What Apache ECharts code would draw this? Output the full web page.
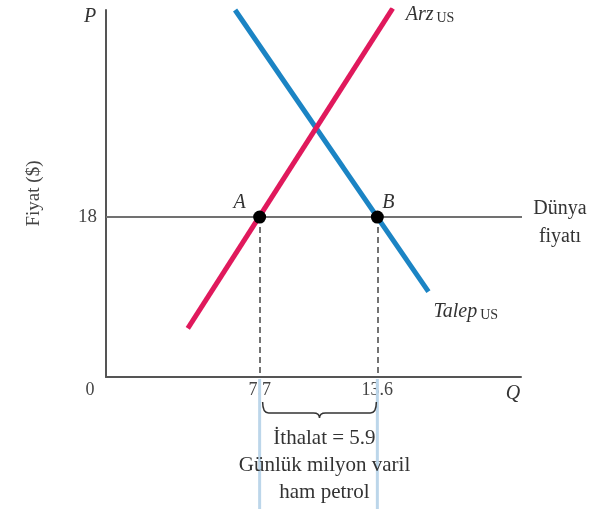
<!DOCTYPE html>
<html lang="tr">
<head>
<meta charset="UTF-8">
<title>Dünya fiyatı ve ithalat</title>
<style>
    html, body { margin: 0; padding: 0; background: #fff; }
    #main { width: 611px; height: 509px; }
</style>
<script src="https://cdn.jsdelivr.net/npm/echarts@6/dist/echarts.min.js"></script>
</head>
<body>
<div id="main"></div>
<script type="text/javascript">
    // arz ve talep doğruları (uç noktalar)
    var supplyQ = [4.1, 14.37];
    var supplyP = [5.48, 41.49];
    var demandQ = [6.47, 16.16];
    var demandP = [41.3, 9.6];
    // dünya fiyatı
    var worldPrice = 18;
    var worldQ = [0, 21.0];
    // A ve B noktaları
    var pointNames = ['A', 'B'];
    var importQ = [7.7, 13.6];
    var importAmount = 5.9;
    // eksen etiketleri
    var xTickValues = [0, 7.7, 13.6];
    var yTickValues = [18];
    var xMax = 20.8;
    var yMax = 41.3;

    var serif = '"Liberation Serif", "Times New Roman", serif';
    var textColor = '#333';

    var myChart = echarts.init(document.getElementById('main'));

    function toPairs(qs, ps) {
        return qs.map(function (q, i) { return [q, ps[i]]; });
    }

    var rich = {
        i: { fontFamily: serif, fontStyle: 'italic', fontSize: 20, color: textColor, lineHeight: 22 },
        s: { fontFamily: serif, fontSize: 14, color: textColor, padding: [8, 0, 0, 3], lineHeight: 22 },
        n: { fontFamily: serif, fontSize: 20, color: textColor, lineHeight: 28, align: 'center' }
    };

    var notes = [
        { value: [supplyQ[1], supplyP[1]], text: '{i|Arz}{s|US}', align: 'left', offset: [13, 6] },
        { value: [demandQ[1], demandP[1]], text: '{i|Talep}{s|US}', align: 'left', offset: [5, 20] },
        { value: [worldQ[1], worldPrice], text: '{n|Dünya}\n{n|fiyatı}', align: 'center', offset: [35, 6] },
        { value: [0, yMax], text: '{i|P}', align: 'center', offset: [-16, 7] },
        { value: [xMax, 0], text: '{i|Q}', align: 'center', offset: [-8, 17] }
    ];

    // ithalat açıklaması: mavi kılavuzlar, küme parantezi ve yazılar
    function renderImports(params, api) {
        var a = api.coord([api.value(0), 0]);
        var b = api.coord([api.value(1), 0]);
        var h = api.getHeight();
        var x1 = a[0] + 3, x2 = b[0] - 1;
        var y = a[1] + 36, y0 = a[1] + 25;
        var mid = (x1 + x2) / 2;
        var brace = 'M' + x1 + ' ' + y0 + ' Q' + x1 + ' ' + y + ' ' + (x1 + 6) + ' ' + y +
            ' L' + (mid - 6) + ' ' + y + ' Q' + mid + ' ' + y + ' ' + mid + ' ' + (y + 5) +
            ' Q' + mid + ' ' + y + ' ' + (mid + 6) + ' ' + y +
            ' L' + (x2 - 6) + ' ' + y + ' Q' + x2 + ' ' + y + ' ' + x2 + ' ' + y0;
        var lines = ['İthalat = ' + importAmount, 'Günlük milyon varil', 'ham petrol'];
        var children = [
            { type: 'line', shape: { x1: a[0], y1: a[1] + 2, x2: a[0], y2: h }, style: { stroke: '#bcd6ea', lineWidth: 3 } },
            { type: 'line', shape: { x1: b[0], y1: b[1] + 2, x2: b[0], y2: h }, style: { stroke: '#bcd6ea', lineWidth: 3 } },
            { type: 'path', shape: { pathData: brace }, style: { stroke: '#333', lineWidth: 1.5, fill: null } }
        ];
        lines.forEach(function (t, i) {
            children.push({
                type: 'text',
                style: {
                    text: t, x: mid + 5, y: a[1] + 61 + i * 27,
                    align: 'center', verticalAlign: 'middle',
                    fontFamily: serif, fontSize: 21, fill: textColor
                }
            });
        });
        return { type: 'group', children: children };
    }

    option = {
        animation: false,
        backgroundColor: '#fff',
        grid: { left: 106, right: 90, top: 10, bottom: 132 },
        xAxis: {
            type: 'value',
            min: 0,
            max: xMax,
            splitLine: { show: false },
            axisTick: { show: false },
            axisLine: { show: true, onZero: false, lineStyle: { color: '#555', width: 2 } },
            axisLabel: {
                customValues: xTickValues,
                margin: 4,
                fontFamily: serif,
                fontSize: 18,
                color: '#444',
                formatter: function (v) { return v === 0 ? '{z|0}' : String(v); },
                rich: { z: { fontFamily: serif, fontSize: 18, color: '#444', padding: [0, 32, 0, 0] } }
            }
        },
        yAxis: {
            type: 'value',
            min: 0,
            max: yMax,
            name: 'Fiyat ($)',
            nameLocation: 'middle',
            nameRotate: 90,
            nameGap: 62,
            nameTextStyle: { fontFamily: serif, fontSize: 19, color: '#444' },
            splitLine: { show: false },
            axisTick: { show: false },
            axisLine: { show: true, onZero: false, lineStyle: { color: '#555', width: 2 } },
            axisLabel: {
                customValues: yTickValues,
                margin: 9,
                fontFamily: serif,
                fontSize: 19,
                color: '#444'
            }
        },
        series: [
            {
                name: 'Dünya fiyatı',
                type: 'line',
                data: toPairs(worldQ, worldQ.map(function () { return worldPrice; })),
                symbol: 'none',
                clip: false,
                z: 1,
                lineStyle: { color: '#717171', width: 2 }
            },
            {
                name: 'Talep',
                type: 'line',
                data: toPairs(demandQ, demandP),
                symbol: 'none',
                z: 2,
                lineStyle: { color: '#1b84c4', width: 5 }
            },
            {
                name: 'Arz',
                type: 'line',
                data: toPairs(supplyQ, supplyP),
                symbol: 'none',
                z: 3,
                lineStyle: { color: '#e0195c', width: 5 }
            },
            {
                name: 'Noktalar',
                type: 'scatter',
                z: 5,
                symbolSize: 13,
                itemStyle: { color: '#000', opacity: 1 },
                data: importQ.map(function (q, i) {
                    return {
                        value: [q, worldPrice],
                        name: pointNames[i],
                        label: { offset: i === 0 ? [-20, -14] : [11, -14] }
                    };
                }),
                label: {
                    show: true,
                    position: 'inside',
                    formatter: '{b}',
                    fontFamily: serif,
                    fontStyle: 'italic',
                    fontSize: 20,
                    color: textColor
                },
                markLine: {
                    silent: true,
                    symbol: 'none',
                    label: { show: false },
                    lineStyle: { color: '#444', width: 1.5, type: [6, 4] },
                    data: importQ.map(function (q) {
                        return [{ coord: [q, worldPrice] }, { coord: [q, 0] }];
                    })
                }
            },
            {
                name: 'Notlar',
                type: 'scatter',
                clip: false,
                symbolSize: 1,
                itemStyle: { color: 'transparent', opacity: 1 },
                data: notes.map(function (n) {
                    return {
                        value: n.value,
                        label: {
                            show: true,
                            position: 'inside',
                            formatter: n.text,
                            align: n.align,
                            verticalAlign: 'middle',
                            offset: n.offset,
                            rich: rich
                        }
                    };
                })
            },
            {
                name: 'İthalat',
                type: 'custom',
                clip: false,
                renderItem: renderImports,
                data: [[importQ[0], importQ[1]]]
            }
        ]
    };
    myChart.setOption(option);
</script>
</body>
</html>
